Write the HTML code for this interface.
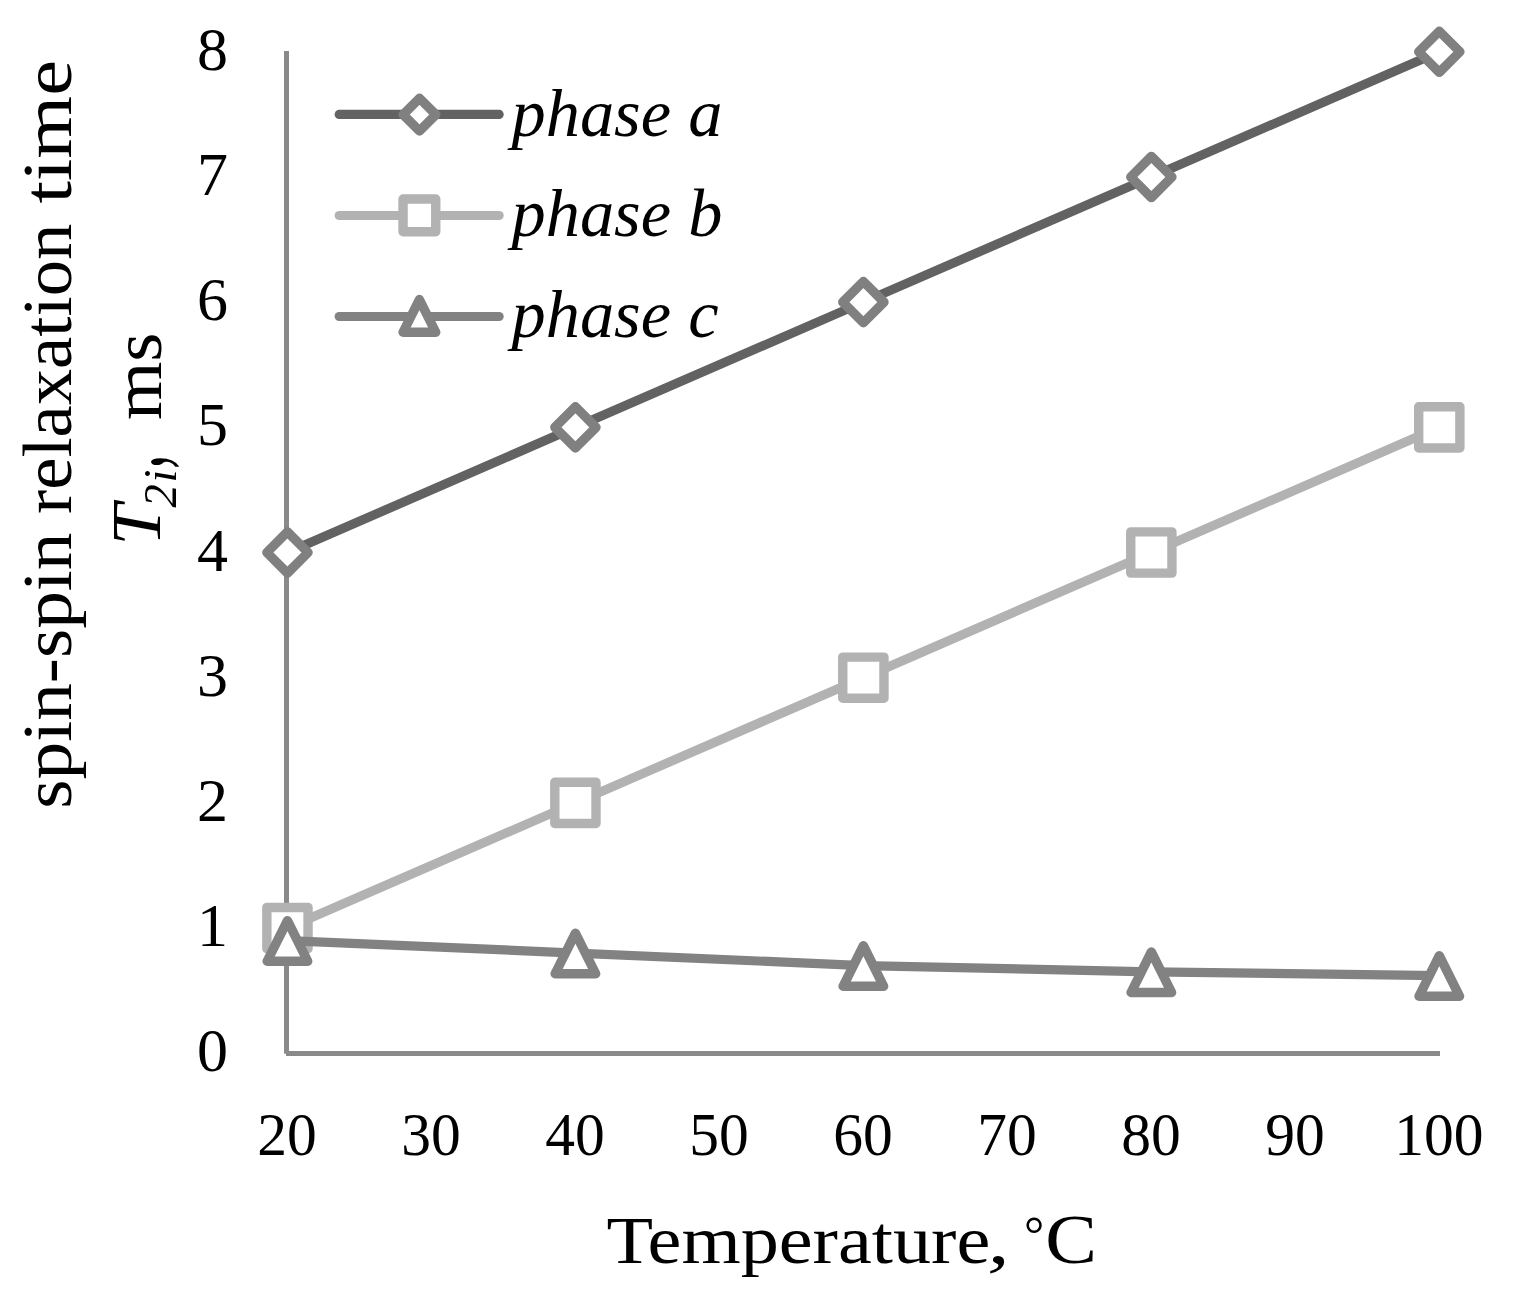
<!DOCTYPE html>
<html lang="en"><head><meta charset="utf-8"><title>Spin-spin relaxation time vs temperature</title>
<style>
html,body{margin:0;padding:0;background:#fff;}
body{width:1514px;height:1297px;overflow:hidden;}
svg{display:block;}
text{font-family:"Liberation Serif",serif;fill:#000;}
.tk{font-size:62px;}
.tt{font-size:68.2px;}
.lg{font-size:68.4px;font-style:italic;}
.mk{fill:#fff;stroke-width:9.4;stroke-linejoin:round;}
.ln{fill:none;stroke-width:9.2;stroke-linejoin:round;stroke-linecap:round;}
</style></head><body>
<svg width="1514" height="1297" viewBox="0 0 1514 1297">
<rect width="1514" height="1297" fill="#fff"/>

<rect x="284" y="51" width="5" height="1002.7" fill="#8a8a8a"/>
<rect x="286" y="1051" width="1154" height="5" fill="#8a8a8a"/>
<polyline class="ln" stroke="#626262" points="287.45,552.50 575.41,427.33 863.38,302.15 1151.34,176.98 1439.30,51.80"/>
<g class="mk" stroke="#808080"><path d="M287.45 531.90L308.05 552.50L287.45 573.10L266.85 552.50Z"/><path d="M575.41 406.73L596.01 427.33L575.41 447.93L554.81 427.33Z"/><path d="M863.38 281.55L883.98 302.15L863.38 322.75L842.77 302.15Z"/><path d="M1151.34 156.38L1171.94 176.98L1151.34 197.58L1130.74 176.98Z"/><path d="M1439.30 31.20L1459.90 51.80L1439.30 72.40L1418.70 51.80Z"/></g>
<polyline class="ln" stroke="#b2b2b2" points="287.45,928.03 575.41,802.85 863.38,677.68 1151.34,552.50 1439.30,427.33"/>
<g class="mk" stroke="#b2b2b2"><rect x="266.85" y="907.43" width="41.20" height="41.20"/><rect x="554.81" y="782.25" width="41.20" height="41.20"/><rect x="842.77" y="657.08" width="41.20" height="41.20"/><rect x="1130.74" y="531.90" width="41.20" height="41.20"/><rect x="1418.70" y="406.73" width="41.20" height="41.20"/></g>
<polyline class="ln" stroke="#828282" points="287.45,940.54 575.41,953.06 863.38,965.58 1151.34,971.84 1439.30,975.59"/>
<g class="mk" stroke="#828282"><path d="M287.45 920.64L307.75 961.24L267.15 961.24Z"/><path d="M575.41 933.16L595.71 973.76L555.11 973.76Z"/><path d="M863.38 945.68L883.67 986.28L843.08 986.28Z"/><path d="M1151.34 951.94L1171.64 992.54L1131.04 992.54Z"/><path d="M1439.30 955.69L1459.60 996.29L1419.00 996.29Z"/></g>
<path class="ln" stroke="#626262" d="M339.2 114.4H499.1"/>
<g class="mk" stroke="#808080"><path d="M419.50 98.25L435.85 114.60L419.50 130.95L403.15 114.60Z"/></g>
<text class="lg" x="511.5" y="135.8">phase a</text>
<path class="ln" stroke="#b2b2b2" d="M339.2 215.5H499.1"/>
<g class="mk" stroke="#b2b2b2"><rect x="403.05" y="199.05" width="32.70" height="32.70"/></g>
<text class="lg" x="511.5" y="236.4">phase b</text>
<path class="ln" stroke="#828282" d="M339.2 316.5H499.1"/>
<g class="mk" stroke="#828282"><path d="M419.40 299.55L435.75 332.25L403.05 332.25Z"/></g>
<text class="lg" x="511.5" y="337.0">phase c</text>
<text class="tk" text-anchor="middle" x="212.6" y="1071.2">0</text>
<text class="tk" text-anchor="middle" x="212.6" y="946.0">1</text>
<text class="tk" text-anchor="middle" x="212.6" y="820.9">2</text>
<text class="tk" text-anchor="middle" x="212.6" y="695.7">3</text>
<text class="tk" text-anchor="middle" x="212.6" y="570.5">4</text>
<text class="tk" text-anchor="middle" x="212.6" y="445.3">5</text>
<text class="tk" text-anchor="middle" x="212.6" y="320.2">6</text>
<text class="tk" text-anchor="middle" x="212.6" y="195.0">7</text>
<text class="tk" text-anchor="middle" x="212.6" y="69.8">8</text>
<text class="tk" text-anchor="middle" transform="translate(287.1 1155.3) scale(0.96 1)">20</text>
<text class="tk" text-anchor="middle" transform="translate(431.1 1155.3) scale(0.96 1)">30</text>
<text class="tk" text-anchor="middle" transform="translate(575.1 1155.3) scale(0.96 1)">40</text>
<text class="tk" text-anchor="middle" transform="translate(719.1 1155.3) scale(0.96 1)">50</text>
<text class="tk" text-anchor="middle" transform="translate(863.1 1155.3) scale(0.96 1)">60</text>
<text class="tk" text-anchor="middle" transform="translate(1007.1 1155.3) scale(0.96 1)">70</text>
<text class="tk" text-anchor="middle" transform="translate(1151.0 1155.3) scale(0.96 1)">80</text>
<text class="tk" text-anchor="middle" transform="translate(1295.0 1155.3) scale(0.96 1)">90</text>
<text class="tk" text-anchor="middle" transform="translate(1439.0 1155.3) scale(0.96 1)">100</text>
<text x="606.4" y="1262.8" font-size="68.4" textLength="383.9" lengthAdjust="spacingAndGlyphs" >Temperature</text>
<text x="987.3" y="1262.8" font-size="68.2" textLength="22.5" lengthAdjust="spacingAndGlyphs" font-style="italic">,</text>
<text x="1024.0" y="1251.1" font-size="50.5" >°</text>
<text x="1045.2" y="1262.8" font-size="70.5" textLength="51.7" lengthAdjust="spacingAndGlyphs" >C</text>
<text transform="translate(70.5 808.7) rotate(-90)" font-size="69.2" textLength="276.1" lengthAdjust="spacingAndGlyphs">spin-spin</text>
<text transform="translate(70.5 514.0) rotate(-90)" font-size="69.2" textLength="290.3" lengthAdjust="spacingAndGlyphs">relaxation</text>
<text transform="translate(70.5 203.6) rotate(-90)" font-size="69.2" textLength="143.7" lengthAdjust="spacingAndGlyphs">time</text>
<text transform="translate(160.4 545.8) rotate(-90)" font-size="70.7" font-style="italic" textLength="41.5" lengthAdjust="spacingAndGlyphs">T</text>
<text transform="translate(176.0 507.5) rotate(-90)" font-size="46.6" font-style="italic">2</text>
<text transform="translate(176.0 482.5) rotate(-90)" font-size="46.6" font-style="italic">i</text>
<text transform="translate(162.0 468.5) rotate(-90) scale(0.8 1.6)" font-size="68.2" font-style="italic">,</text>
<text transform="translate(160.8 420) rotate(-90)" font-size="69.5" textLength="87.5" lengthAdjust="spacingAndGlyphs">ms</text>
</svg></body></html>
